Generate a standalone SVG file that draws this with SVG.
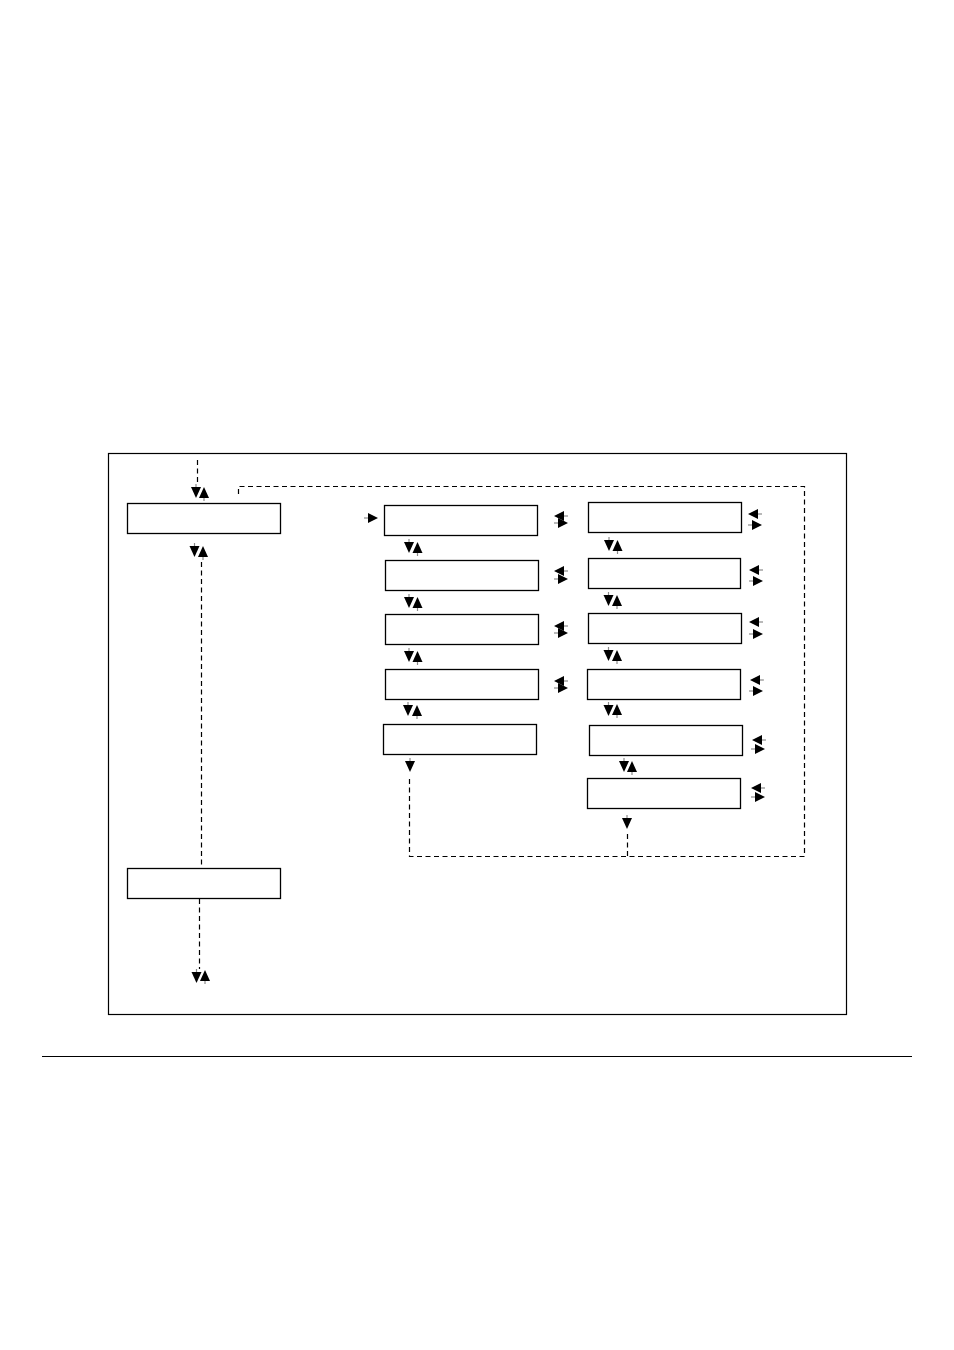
<svg xmlns="http://www.w3.org/2000/svg" xmlns:xlink="http://www.w3.org/1999/xlink" width="954" height="1350" viewBox="0 0 954 1350">
<style>
.box{fill:#fff;stroke:#000;stroke-width:1.3}
.frame{fill:none;stroke:#000;stroke-width:1.2}
.dash{fill:none;stroke:#000;stroke-width:1.2;stroke-dasharray:5 3.5}
.stem{stroke:#8a8a8a;stroke-width:1.2}
.tri{fill:#000}
</style>
<defs>
<g id="ad"><line x1="0" y1="-14" x2="0" y2="-9" class="stem"/><polygon class="tri" points="-5,-11 5,-11 0,0"/></g>
<g id="au"><line x1="0" y1="9" x2="0" y2="14" class="stem"/><polygon class="tri" points="-5,11 5,11 0,0"/></g>
<g id="ar"><line x1="-14" y1="0" x2="-8" y2="0" class="stem"/><polygon class="tri" points="-10,-5 -10,5 0,0"/></g>
<g id="al"><line x1="14" y1="0" x2="8" y2="0" class="stem"/><polygon class="tri" points="10,-5 10,5 0,0"/></g>
</defs>
<rect width="954" height="1350" fill="#fff"/>
<rect id="frame" class="frame" x="108.5" y="453.5" width="738" height="561"/>
<line id="rule" x1="42" y1="1056.5" x2="912" y2="1056.5" stroke="#000" stroke-width="1"/>

<g id="nodes">
<g id="left1"><rect class="box" x="127.5" y="503.5" width="153" height="30"/></g>
<g id="left2"><rect class="box" x="127.5" y="868.5" width="153" height="30"/></g>
<g id="m1"><rect class="box" x="384.5" y="505.5" width="153" height="30"/></g>
<g id="m2"><rect class="box" x="385.5" y="560.5" width="153" height="30"/></g>
<g id="m3"><rect class="box" x="385.5" y="614.5" width="153" height="30"/></g>
<g id="m4"><rect class="box" x="385.5" y="669.5" width="153" height="30"/></g>
<g id="m5"><rect class="box" x="383.5" y="724.5" width="153" height="30"/></g>
<g id="r1"><rect class="box" x="588.5" y="502.5" width="153" height="30"/></g>
<g id="r2"><rect class="box" x="588.5" y="558.5" width="152" height="30"/></g>
<g id="r3"><rect class="box" x="588.5" y="613.5" width="153" height="30"/></g>
<g id="r4"><rect class="box" x="587.5" y="669.5" width="153" height="30"/></g>
<g id="r5"><rect class="box" x="589.5" y="725.5" width="153" height="30"/></g>
<g id="r6"><rect class="box" x="587.5" y="778.5" width="153" height="30"/></g>
</g>

<g id="connectors">
<line class="dash" x1="197.5" y1="460" x2="197.5" y2="485"/>
<line class="dash" x1="201.5" y1="562" x2="201.5" y2="868"/>
<line class="dash" x1="199.5" y1="899" x2="199.5" y2="969"/>
<polyline class="dash" points="238.5,494 238.5,486.5 804.5,486.5 804.5,856.5 409.5,856.5 409.5,776"/>
<line class="dash" x1="627.5" y1="856" x2="627.5" y2="831"/>

<use xlink:href="#ad" x="196" y="498"/><use xlink:href="#au" x="204" y="487"/>
<use xlink:href="#ad" x="194.5" y="557"/><use xlink:href="#au" x="203" y="546"/>
<use xlink:href="#ad" x="196.5" y="983"/><use xlink:href="#au" x="205" y="970"/>

<use xlink:href="#ar" x="378" y="518"/>

<use xlink:href="#ad" x="409" y="553"/><use xlink:href="#au" x="417.5" y="542"/>
<use xlink:href="#ad" x="409" y="608"/><use xlink:href="#au" x="417.5" y="597"/>
<use xlink:href="#ad" x="409" y="662"/><use xlink:href="#au" x="417.5" y="651"/>
<use xlink:href="#ad" x="408" y="716"/><use xlink:href="#au" x="417" y="705"/>
<use xlink:href="#ad" x="410" y="772"/>

<use xlink:href="#ad" x="609" y="551"/><use xlink:href="#au" x="617.5" y="540"/>
<use xlink:href="#ad" x="608.5" y="606"/><use xlink:href="#au" x="617" y="595"/>
<use xlink:href="#ad" x="608.5" y="661"/><use xlink:href="#au" x="617" y="650"/>
<use xlink:href="#ad" x="608.5" y="716"/><use xlink:href="#au" x="617" y="704"/>
<use xlink:href="#ad" x="624" y="772"/><use xlink:href="#au" x="632" y="761"/>
<use xlink:href="#ad" x="627" y="829"/>

<use xlink:href="#al" x="554" y="516"/><use xlink:href="#ar" x="568" y="523"/>
<use xlink:href="#al" x="554" y="571"/><use xlink:href="#ar" x="568" y="579"/>
<use xlink:href="#al" x="554" y="626"/><use xlink:href="#ar" x="568" y="633"/>
<use xlink:href="#al" x="554" y="681"/><use xlink:href="#ar" x="568" y="688"/>

<use xlink:href="#al" x="748" y="514"/><use xlink:href="#ar" x="762" y="525"/>
<use xlink:href="#al" x="749" y="570"/><use xlink:href="#ar" x="763" y="581"/>
<use xlink:href="#al" x="749" y="622"/><use xlink:href="#ar" x="763" y="634"/>
<use xlink:href="#al" x="750" y="680"/><use xlink:href="#ar" x="763" y="691"/>
<use xlink:href="#al" x="752" y="740"/><use xlink:href="#ar" x="765" y="749"/>
<use xlink:href="#al" x="751" y="788"/><use xlink:href="#ar" x="765" y="797"/>
</g>
</svg>
